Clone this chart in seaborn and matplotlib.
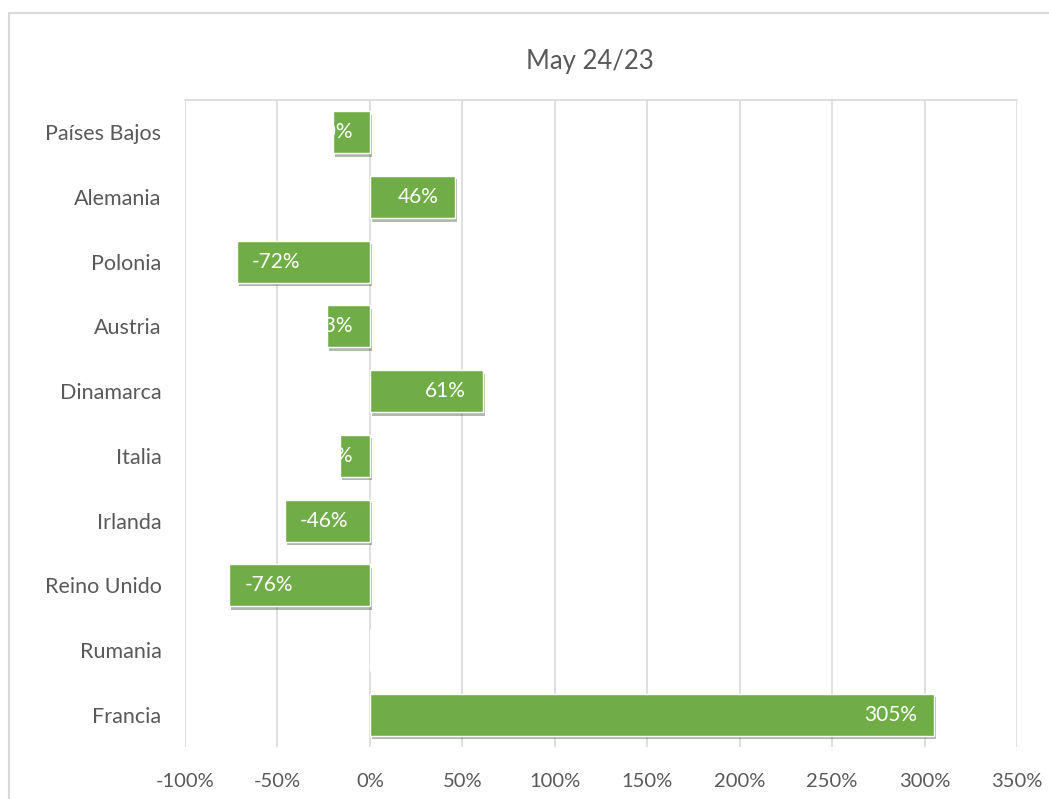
import matplotlib
matplotlib.use('Agg')
import matplotlib.pyplot as plt
import matplotlib.patheffects as pe
from matplotlib.patches import Rectangle
from matplotlib.ticker import PercentFormatter, MultipleLocator
import pandas as pd
import seaborn as sns

# datos del gráfico
paises = ['Países Bajos', 'Alemania', 'Polonia', 'Austria', 'Dinamarca',
          'Italia', 'Irlanda', 'Reino Unido', 'Rumania', 'Francia']
variacion = [-20, 46, -72, -23, 61, -16, -46, -76, 0, 305]
titulo = 'May 24/23'

df = pd.DataFrame({'pais': paises, 'var': variacion})

sns.set_style('white')
plt.rcParams['font.family'] = ['Lato', 'DejaVu Sans']
plt.rcParams['axes.unicode_minus'] = False

gris = '#595959'
verde = '#70AD47'

fig = plt.figure(figsize=(10.49, 7.99), dpi=100)
ax = fig.add_axes([185 / 1049, 1 - 747 / 799, (1017 - 185) / 1049, (747 - 100) / 799])

sns.barplot(data=df, x='var', y='pais', orient='h', color=verde, width=0.65,
            saturation=1, ax=ax, zorder=3)

for bar in ax.patches:
    bar.set_path_effects([pe.SimplePatchShadow(offset=(1.5, -2.5), alpha=0.35), pe.Normal()])

# etiquetas de datos (blancas, extremo interior)
for i, v in enumerate(variacion):
    if v == 0:
        continue
    txt = f'{v}%'
    if v > 0:
        ax.annotate(txt, xy=(v, i), xytext=(-12, 0), textcoords='offset points',
                    ha='right', va='center', color='white', fontsize=15, zorder=4)
    elif v < -30:
        ax.annotate(txt, xy=(v, i), xytext=(11, 0), textcoords='offset points',
                    ha='left', va='center', color='white', fontsize=15, zorder=4)
    else:
        ax.annotate(txt, xy=(0, i), xytext=(-12, 0), textcoords='offset points',
                    ha='right', va='center', color='white', fontsize=15, zorder=4)

ax.set_xlim(-100, 350)
ax.xaxis.set_major_locator(MultipleLocator(50))
ax.xaxis.set_major_formatter(PercentFormatter(xmax=100, decimals=0))
ax.set_xlabel('')
ax.set_ylabel('')
ax.grid(axis='x', color='#D9D9D9', linewidth=1.2, zorder=0)
ax.set_axisbelow(True)
ax.tick_params(axis='y', length=0, labelsize=15.5, labelcolor=gris, pad=17)
ax.tick_params(axis='x', length=0, labelsize=14.5, labelcolor=gris, pad=19)

for s in ['left', 'right', 'bottom']:
    ax.spines[s].set_visible(False)
ax.spines['top'].set_color('#D9D9D9')
ax.spines['top'].set_linewidth(1.2)

fig.text(590 / 1049, 1 - 61 / 799, titulo, ha='center', va='center',
         fontsize=18.5, color=gris)

# borde del área del gráfico
fig.patches.append(Rectangle((9 / 1049, -0.1), 1.2, 1 - 13 / 799 + 0.1,
                             transform=fig.transFigure, fill=False,
                             edgecolor='#D9D9D9', linewidth=1.5))

fig.savefig('out.png', dpi=100)
